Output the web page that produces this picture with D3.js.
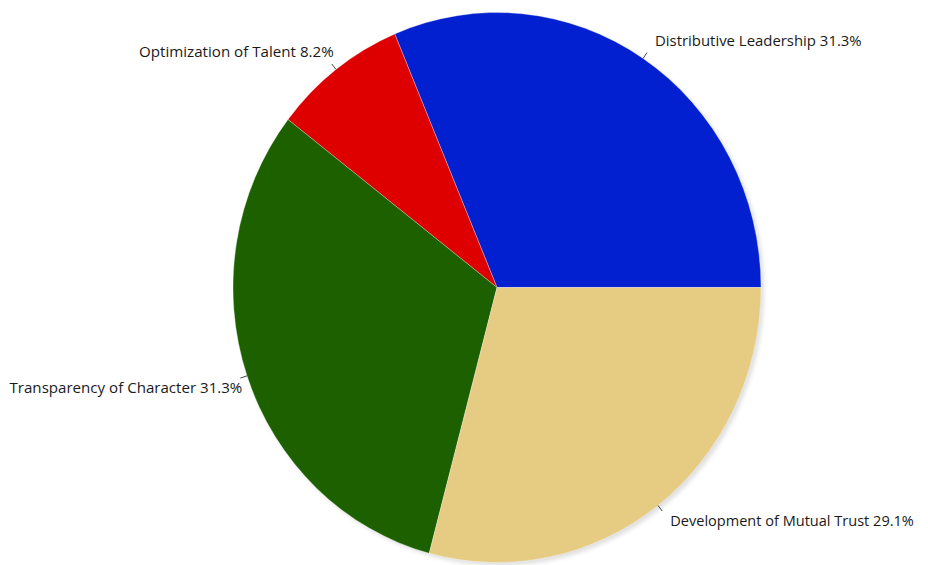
<!DOCTYPE html>
<html>
<head>
<meta charset="utf-8">
<script src="https://cdn.jsdelivr.net/npm/d3@7"></script>
<style>
  html, body { margin: 0; padding: 0; background: #fff; }
  svg { display: block; }
</style>
</head>
<body>
<svg id="chart" width="928" height="565"></svg>
<script>
// Leadership dimension shares (percent)
const categories = [
  "Distributive Leadership",
  "Optimization of Talent",
  "Transparency of Character",
  "Development of Mutual Trust"
];
const values = [31.3, 8.2, 31.3, 29.1];
const colors = ["#0220d0", "#de0000", "#1d6000", "#e6cb83"];
const labelWidths = [207, 195, 233, 244];

const W = 928, H = 565;
const cx = 497, cy = 287.5, rx = 264, ry = 275;

const svg = d3.select("#chart");

const defs = svg.append("defs");
defs.append("filter").attr("id", "soft")
  .append("feGaussianBlur").attr("stdDeviation", 2);

// Slices run counter-clockwise starting at 3 o'clock
const pie = d3.pie()
  .value(d => d.value)
  .sort(null)
  .startAngle(Math.PI / 2)
  .endAngle(Math.PI / 2 - 2 * Math.PI);

const data = categories.map((c, i) => ({ name: c, value: values[i], color: colors[i], w: labelWidths[i] }));
const arcs = pie(data);

const arc = d3.arc().innerRadius(0).outerRadius(rx);

// soft drop shadow
svg.append("ellipse")
  .attr("cx", cx + 3).attr("cy", cy + 3)
  .attr("rx", rx).attr("ry", ry)
  .attr("fill", "#000").attr("opacity", 0.12)
  .attr("filter", "url(#soft)");

const g = svg.append("g")
  .attr("transform", `translate(${cx},${cy}) scale(1,${ry / rx})`);

g.selectAll("path")
  .data(arcs)
  .join("path")
  .attr("d", arc)
  .attr("fill", d => d.data.color)
  .attr("stroke", "#ffffff")
  .attr("stroke-opacity", 0.5)
  .attr("stroke-width", 0.6);

// leader ticks and labels
const fmt = d3.format(".1f");
const tickLen = 7;
const baseSize = 15;
arcs.forEach(a => {
  const m = (a.startAngle + a.endAngle) / 2;
  const sx = Math.sin(m), sy = -Math.cos(m);
  const x0 = cx + rx * sx, y0 = cy + ry * sy;
  const x1 = x0 + tickLen * sx, y1 = y0 + tickLen * sy;
  svg.append("line")
    .attr("x1", x0).attr("y1", y0).attr("x2", x1).attr("y2", y1)
    .attr("stroke", "#444").attr("stroke-width", 1);

  const right = sx > 0;
  const upper = sy < 0;
  const tx = right ? x1 + 8 : x1 + 2;
  const ty = upper ? y1 - 7 : y1 + 15;
  const t = svg.append("text")
    .attr("x", tx).attr("y", ty)
    .attr("text-anchor", right ? "start" : "end")
    .attr("font-family", "'Open Sans', 'Liberation Sans', sans-serif")
    .attr("font-size", baseSize)
    .attr("fill", "#1a1a1a")
    .text(`${a.data.name} ${fmt(a.data.value)}%`);
  // size each label so it spans its target width
  const len = t.node().getComputedTextLength();
  t.attr("font-size", Math.min(16, baseSize * a.data.w / len));
});
</script>
</body>
</html>
